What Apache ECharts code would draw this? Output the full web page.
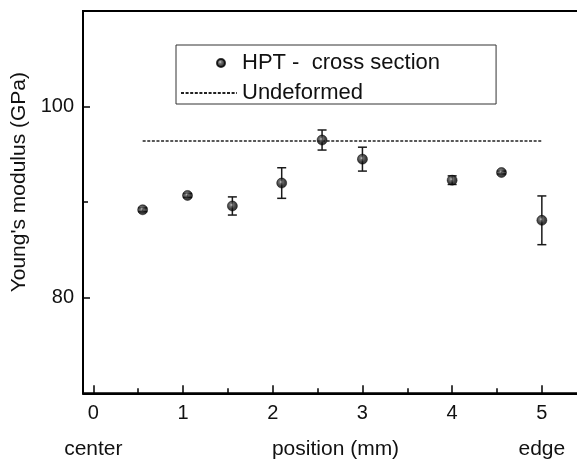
<!DOCTYPE html>
<html>
<head>
<meta charset="utf-8">
<script src="https://cdn.jsdelivr.net/npm/echarts@6/dist/echarts.min.js"></script>
<style>html,body{margin:0;padding:0;background:#fff;}#c{width:577px;height:459px;}</style>
</head>
<body>
<div id="c"></div>
<script>
// ---- data ----
const positions = [0.55, 1.05, 1.55, 2.1, 2.55, 3.0, 4.0, 4.55, 5.0];
const modulus   = [89.2, 90.7, 89.6, 92.0, 96.5, 94.5, 92.3, 93.1, 88.1];
const errors    = [0.2, 0.2, 0.95, 1.6, 1.05, 1.25, 0.45, 0.15, 2.55];
const undeformedX = [0.55, 5.0];
const undeformedValue = 96.4;
const xTicks = [0, 1, 2, 3, 4, 5];
const xMinorTicks = [0.5, 1.5, 2.5, 3.5, 4.5];
const yTicks = [80, 100];
const yMinorTicks = [90];
const bottomLabelValues = [0, 2.7, 5];
const bottomLabelTexts = ['center', 'position (mm)', 'edge'];
const seriesName = 'HPT -  cross section';
const lineName = 'Undeformed';
const yTitle = "Young's modulus (GPa)";

const FONT = "'Liberation Sans', Arial, Helvetica, sans-serif";
const INK = '#111';

const pointData = positions.map((x, i) => [x, modulus[i]]);
const errData = positions.map((x, i) => [x, modulus[i], errors[i]]);
const lineData = undeformedX.map(x => [x, undeformedValue]);

const ball = {
  type: 'radial', x: 0.42, y: 0.4, r: 0.6,
  colorStops: [
    {offset: 0, color: '#c8c8c8'},
    {offset: 0.22, color: '#585858'},
    {offset: 0.6, color: '#161616'},
    {offset: 1, color: '#000'}
  ]
};

const X_MIN = -0.115, X_MAX = 5.5;
const baseX = {type: 'value', min: X_MIN, max: X_MAX, position: 'bottom', splitLine: {show: false}};
const baseY = {type: 'value', min: 70, max: 110, position: 'left', splitLine: {show: false}};

const chart = echarts.init(document.getElementById('c'), null, {renderer: 'canvas'});
chart.setOption({
  animation: false,
  backgroundColor: '#fff',
  grid: {left: 83, top: 11, width: 503.7, height: 382.3, show: true, borderColor: '#000', borderWidth: 2,
         backgroundColor: 'transparent', outerBoundsMode: 'none', containLabel: false},
  legend: [
    {
      data: [{name: lineName}], orient: 'vertical', left: 176, top: 45,
      padding: [37, 133, 0, 4], borderColor: '#333', borderWidth: 1,
      itemWidth: 56, itemHeight: 10, selectedMode: false,
      itemStyle: {opacity: 0},
      textStyle: {fontSize: 22, color: INK, fontFamily: FONT}
    },
    {
      data: [{name: seriesName, icon: 'circle'}], orient: 'vertical', left: 216, top: 52,
      padding: 0, itemWidth: 32, itemHeight: 8, selectedMode: false,
      textStyle: {fontSize: 22, color: INK, fontFamily: FONT}
    }
  ],
  xAxis: [
    Object.assign({}, baseX, {
      axisLine: {show: true, onZero: false, lineStyle: {color: '#000', width: 2}},
      axisTick: {show: true, inside: true, length: 8, customValues: xTicks, lineStyle: {color: '#000', width: 1.5}},
      axisLabel: {show: true, customValues: xTicks, margin: 10, fontSize: 20, color: INK, fontFamily: FONT}
    }),
    Object.assign({}, baseX, {
      axisLine: {show: false, onZero: false},
      axisTick: {show: true, inside: true, length: 5, customValues: xMinorTicks, lineStyle: {color: '#000', width: 1.5}},
      axisLabel: {show: false}
    }),
    Object.assign({}, baseX, {
      axisLine: {show: false, onZero: false},
      axisTick: {show: false},
      axisLabel: {show: true, customValues: bottomLabelValues, margin: 45, fontSize: 21, color: INK, fontFamily: FONT,
        formatter: v => { const i = bottomLabelValues.findIndex(b => Math.abs(b - v) < 1e-6); return i >= 0 ? bottomLabelTexts[i] : ''; }}
    })
  ],
  yAxis: [
    Object.assign({}, baseY, {
      name: yTitle, nameLocation: 'middle', nameGap: 43,
      nameTextStyle: {fontSize: 21, color: INK, fontFamily: FONT, padding: [0, 0, 0, 40]},
      axisLine: {show: true, onZero: false, lineStyle: {color: '#000', width: 2}},
      axisTick: {show: true, inside: true, length: 7, customValues: yTicks, lineStyle: {color: '#000', width: 1.5}},
      axisLabel: {show: true, customValues: yTicks, margin: 9, fontSize: 20, color: INK, fontFamily: FONT}
    }),
    Object.assign({}, baseY, {
      axisLine: {show: false, onZero: false},
      axisTick: {show: true, inside: true, length: 5, customValues: yMinorTicks, lineStyle: {color: '#000', width: 1.5}},
      axisLabel: {show: false}
    })
  ],
  series: [
    {
      type: 'custom', name: 'errors', xAxisIndex: 0, yAxisIndex: 0, z: 2,
      data: errData,
      renderItem: function (params, api) {
        const x = api.value(0), y = api.value(1), e = api.value(2);
        const top = api.coord([x, y + e]);
        const bot = api.coord([x, y - e]);
        const hw = 4.5;
        const st = {stroke: '#1a1a1a', lineWidth: 1.5};
        return {
          type: 'group',
          children: [
            {type: 'line', shape: {x1: top[0], y1: top[1], x2: bot[0], y2: bot[1]}, style: st},
            {type: 'line', shape: {x1: top[0] - hw, y1: top[1], x2: top[0] + hw, y2: top[1]}, style: st},
            {type: 'line', shape: {x1: bot[0] - hw, y1: bot[1], x2: bot[0] + hw, y2: bot[1]}, style: st}
          ]
        };
      }
    },
    {
      type: 'line', name: lineName, xAxisIndex: 0, yAxisIndex: 0, z: 3,
      data: lineData, symbol: 'none', showSymbol: false,
      itemStyle: {color: '#222'},
      lineStyle: {color: '#222', width: 1.3, type: [3, 1.6]}
    },
    {
      type: 'scatter', name: seriesName, xAxisIndex: 0, yAxisIndex: 0, z: 4,
      data: pointData, symbol: 'circle', symbolSize: 10,
      itemStyle: {color: ball, borderColor: '#000', borderWidth: 0.6}
    }
  ]
});
</script>
</body>
</html>
